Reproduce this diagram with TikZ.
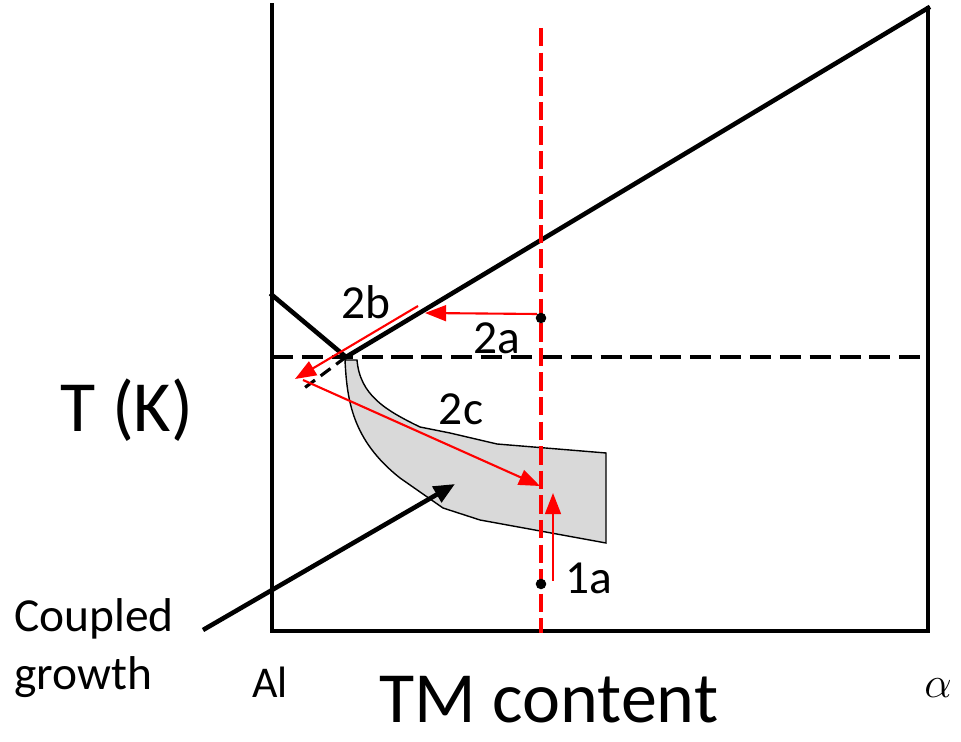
\documentclass[tikz,border=0pt]{standalone}
\usepackage{fontspec}
\setmainfont{Carlito}
\usetikzlibrary{arrows.meta}
\begin{document}
\begin{tikzpicture}[x=0.02cm,y=-0.02cm,
  axis/.style={line width=2.6pt,line cap=rect},
  redarrow/.style={red,line width=1.2pt,-{Triangle[length=12pt,width=9pt]}},
  lbl/.style={font=\fontsize{27}{30}\selectfont,inner sep=0pt},
  dotmark/.style={circle,fill=black,inner sep=0pt,minimum size=6pt}]
\useasboundingbox (0,0) rectangle (961,742);
% coordinates
\coordinate (tl) at (272,5);
\coordinate (bl) at (272,631);
\coordinate (br) at (928,631);
\coordinate (tr) at (928,8);
\coordinate (eu) at (346,357);
\coordinate (ll) at (272,295);
\coordinate (dl) at (272,357);
\coordinate (dr) at (928,357);
\coordinate (ext) at (303,389);
\coordinate (rt) at (541,28);
\coordinate (rb) at (541,633);
% coupled zone
\fill[gray!30,draw=black,line width=0.8pt] (345,360)
  .. controls (347,400) and (352,440) .. (400,478)
  -- (443,508) -- (480,520) -- (606,543) -- (606,453)
  -- (497,444) -- (450,433) -- (420,427)
  .. controls (385,410) and (360,395) .. (357,360) -- cycle;
% axes
\draw[axis] (tl) -- (bl) -- (br) -- (tr);
\draw[axis] (ll) -- (eu) -- (tr);
\draw[line width=1.8pt,dash pattern=on 12pt off 5pt] (dl) -- (dr);
\draw[line width=1.8pt,dash pattern=on 7pt off 4pt] (eu) -- (ext);
% red dashed composition line
\draw[red,line width=2.4pt,dash pattern=on 10.5pt off 3.5pt] (rt) -- (rb);
% dots
\node[dotmark] (p2) at (541,318) {};
\node[dotmark] (p1) at (541,584) {};
% red arrows
\coordinate (a2s) at (537,314);
\coordinate (a2e) at (425,313);
\draw[redarrow] (a2s) -- (a2e);
\coordinate (a2bs) at (418,306);
\coordinate (a2be) at (295,379);
\draw[redarrow] (a2bs) -- (a2be);
\coordinate (a2cs) at (303,380);
\coordinate (a2ce) at (540,486);
\draw[redarrow] (a2cs) -- (a2ce);
\coordinate (a1s) at (553,581);
\coordinate (a1e) at (553,493);
\draw[redarrow] (a1s) -- (a1e);
% labels
\node[lbl] (l2b) at (366,302) {2b};
\node[lbl] (l2a) at (497,338) {2a};
\node[lbl] (l2c) at (461,409) {2c};
\node[lbl] (l1a) at (589,578) {1a};
\node[inner sep=0pt,font=\fontsize{41}{46}\selectfont] (tk) at (127,410) {T (K)};
\node[inner sep=0pt,font=\fontsize{41}{46}\selectfont] (tm) at (549,700) {TM content};
\node[inner sep=0pt,font=\fontsize{25}{28}\selectfont] (al) at (270,682) {Al};
\node[inner sep=0pt,font=\fontsize{30}{34}\selectfont] (alpha) at (938,688) {$\alpha$};
\node[inner sep=0pt,align=left,anchor=west,font=\fontsize{27}{33}\selectfont] (cg) at (14,648) {Coupled\\growth};
% black arrow
\coordinate (bs) at (203,630);
\coordinate (be) at (455,484);
\draw[line width=2.6pt,-{Triangle[length=12pt,width=10pt]}] (bs) -- (be);
\end{tikzpicture}
\end{document}
